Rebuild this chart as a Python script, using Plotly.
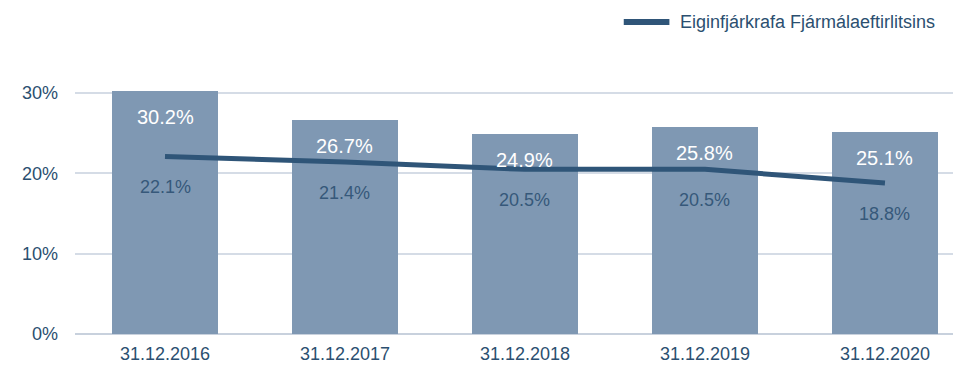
import plotly.graph_objects as go

# Capital figures per reporting date
dates = ["31.12.2016", "31.12.2017", "31.12.2018", "31.12.2019", "31.12.2020"]
capital_ratio = [30.2, 26.7, 24.9, 25.8, 25.1]
fme_requirement = [22.1, 21.4, 20.5, 20.5, 18.8]
y_ticks = [0, 10, 20, 30]
y_tick_text = ["0%", "10%", "20%", "30%"]
legend_label = "Eiginfjárkrafa Fjármálaeftirlitsins"

BAR_COLOR = "#7f98b3"
LINE_COLOR = "#2f5578"
TEXT_COLOR = "#2b4f70"
LABEL_COLOR = "#36587a"
FONT = "Liberation Sans, Arial, sans-serif"

fig = go.Figure()

fig.add_trace(go.Bar(
    x=list(range(len(dates))),
    y=capital_ratio,
    marker=dict(color=BAR_COLOR, line=dict(width=0)),
    width=0.59,
    showlegend=False,
    hoverinfo="skip",
))

fig.add_trace(go.Scatter(
    x=list(range(len(dates))),
    y=fme_requirement,
    mode="lines",
    line=dict(color=LINE_COLOR, width=5),
    name=legend_label,
    showlegend=False,
))

annotations = []
for i, v in enumerate(capital_ratio):
    annotations.append(dict(
        x=i, y=v, xref="x", yref="y", text=f"{v:.1f}%", showarrow=False,
        yshift=-26, font=dict(family=FONT, size=20, color="white"),
    ))
for i, v in enumerate(fme_requirement):
    annotations.append(dict(
        x=i, y=v, xref="x", yref="y", text=f"{v:.1f}%", showarrow=False,
        yshift=-31, font=dict(family=FONT, size=18, color=LABEL_COLOR),
    ))

# Legend entry: a short thick line followed by the series name
annotations.append(dict(
    x=0.687, y=1.253, xref="paper", yref="paper", xanchor="left",
    yanchor="middle", text=legend_label, showarrow=False,
    font=dict(family=FONT, size=18, color=TEXT_COLOR),
))
shapes = [dict(
    type="line", xref="paper", yref="paper", x0=0.625, x1=0.677,
    y0=1.253, y1=1.253, line=dict(color=LINE_COLOR, width=6),
)]

fig.update_layout(
    width=953, height=365,
    margin=dict(l=75, r=0, t=85, b=31),
    paper_bgcolor="white", plot_bgcolor="white",
    font=dict(family=FONT, size=18, color=TEXT_COLOR),
    annotations=annotations,
    shapes=shapes,
    bargap=0,
    showlegend=False,
    xaxis=dict(
        tickmode="array", tickvals=list(range(len(dates))), ticktext=dates,
        range=[-0.5, 4.378], showgrid=False, zeroline=False, showline=False,
        ticks="", tickfont=dict(size=18, color=TEXT_COLOR), fixedrange=True,
        ticklabelstandoff=7,
    ),
    yaxis=dict(
        range=[0, 31], tickmode="array", tickvals=y_ticks, ticktext=y_tick_text,
        showgrid=True, gridcolor="#d5dce6", gridwidth=1.5,
        zeroline=True, zerolinecolor="#c8d1dd", zerolinewidth=1.5,
        showline=False, ticks="", ticklabelstandoff=16,
        tickfont=dict(size=18, color=TEXT_COLOR), fixedrange=True,
    ),
)

fig.write_html("out.html")
